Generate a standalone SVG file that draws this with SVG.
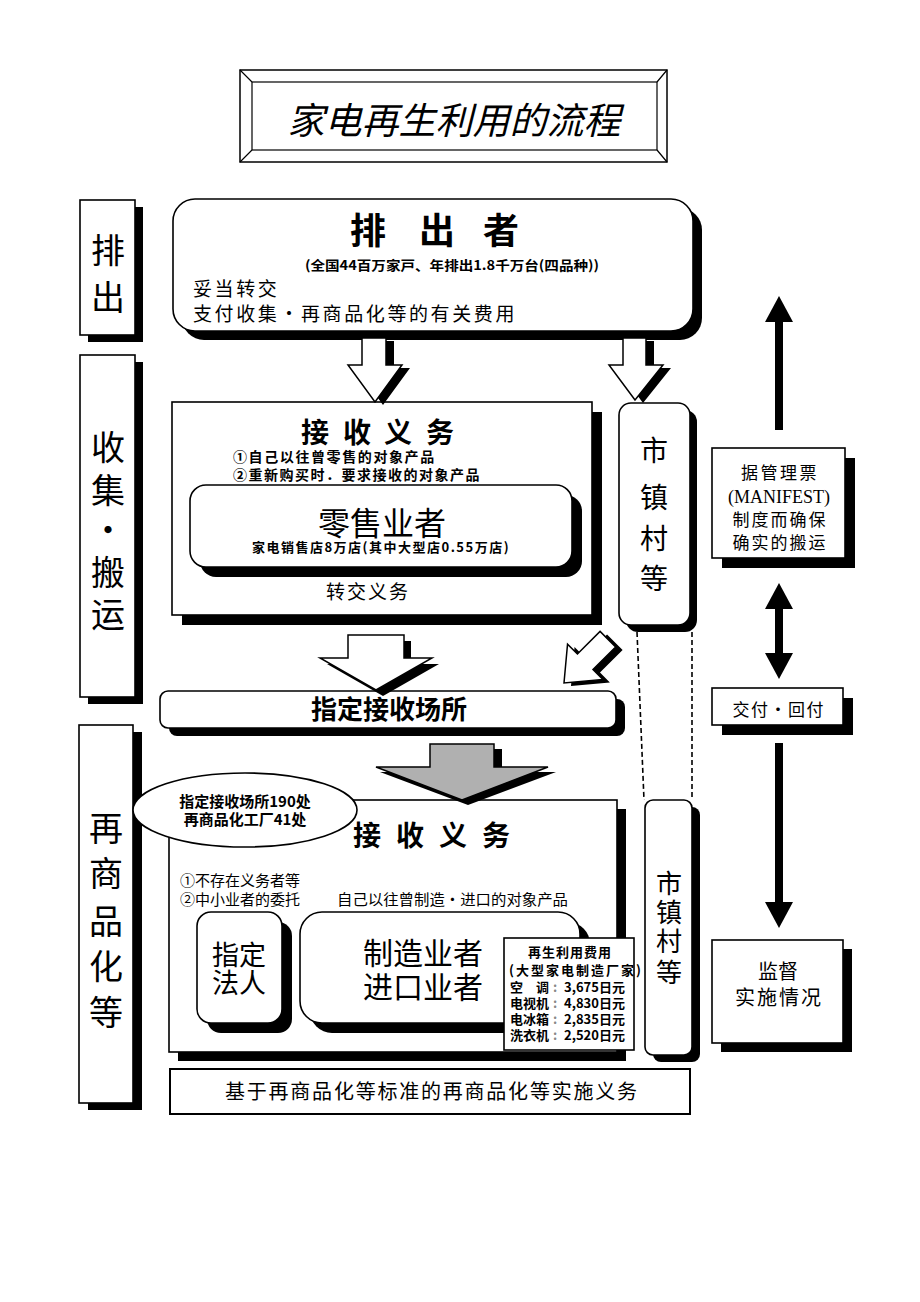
<svg xmlns="http://www.w3.org/2000/svg" width="920" height="1302" viewBox="0 0 920 1302">
<defs>
<style>
.bx{fill:#fff;stroke:#000;stroke-width:1.6}
.sh{fill:#000}
.t{font-family:"Noto Sans CJK SC","Noto Sans CJK JP",sans-serif;fill:#000}
.c{text-anchor:middle}
.b{font-weight:bold}
.ha{fill:#fff;stroke:#000;stroke-width:1.5;stroke-linejoin:miter}
.ga{fill:#b0b0b0;stroke:#000;stroke-width:1.5}
.dl{fill:none;stroke:#000;stroke-width:1.6;stroke-dasharray:5 3}
.sl{stroke:#000;stroke-width:8;fill:none}
</style>
<marker id="ah" viewBox="0 0 26 28" refX="1" refY="14" markerWidth="26" markerHeight="28" markerUnits="userSpaceOnUse" orient="auto-start-reverse">
<path d="M0,0 L26,14 L0,28 Z" fill="#000"/>
</marker>
</defs>
<rect width="920" height="1302" fill="#fff"/>

<g id="title">
<rect x="240" y="70" width="427" height="92" fill="#fff" stroke="#000" stroke-width="1.5"/>
<rect x="252" y="82" width="405" height="68" fill="#fff" stroke="#000" stroke-width="1.2"/>
<path d="M240,70 L252,82 M667,70 L657,82 M240,162 L252,150 M667,162 L657,150" stroke="#000" stroke-width="1.2"/>
<text class="t c" x="454" y="134" font-size="37" font-style="italic">家电再生利用的流程</text>
</g>

<g id="lbl-discharge">
<rect class="sh" x="88" y="207" width="55" height="135"/>
<rect class="bx" x="80" y="200" width="55" height="135"/>
<text class="t c" font-size="34"><tspan x="108" y="263">排</tspan><tspan x="108" y="310">出</tspan></text>
</g>

<g id="lbl-collect">
<rect class="sh" x="88" y="362" width="55" height="342"/>
<rect class="bx" x="80" y="355" width="55" height="342"/>
<text class="t c" font-size="34"><tspan x="108" y="460">收</tspan><tspan x="108" y="503">集</tspan><tspan x="108" y="543">・</tspan><tspan x="108" y="585">搬</tspan><tspan x="108" y="627">运</tspan></text>
</g>

<g id="lbl-recycle">
<rect class="sh" x="88" y="732" width="54" height="378"/>
<rect class="bx" x="79" y="725" width="54" height="378"/>
<text class="t c" font-size="34"><tspan x="106" y="841">再</tspan><tspan x="106" y="886">商</tspan><tspan x="106" y="934">品</tspan><tspan x="106" y="979">化</tspan><tspan x="106" y="1025">等</tspan></text>
</g>

<g id="discharger">
<rect class="sh" x="182" y="208" width="520" height="132" rx="22"/>
<rect class="bx" x="173" y="199" width="520" height="132" rx="22"/>
<text class="t c b" font-size="36"><tspan x="368" y="244">排</tspan><tspan x="437" y="244">出</tspan><tspan x="501" y="244">者</tspan></text>
<text class="t c b" x="452" y="270" font-size="13" textLength="294" lengthAdjust="spacingAndGlyphs">(全国44百万家戸、年排出1.8千万台(四品种))</text>
<text class="t" font-size="19" letter-spacing="2.6"><tspan x="193" y="296">妥当转交</tspan><tspan x="193" y="321">支付收集・再商品化等的有关费用</tspan></text>
</g>

<g id="collect-box">
<rect class="sh" x="182" y="412" width="420" height="213"/>
<rect class="bx" x="172" y="402" width="420" height="213"/>
<text class="t b" font-size="14"><tspan x="301" y="443" font-size="28">接</tspan><tspan x="343" y="443" font-size="28">收</tspan><tspan x="384" y="443" font-size="28">义</tspan><tspan x="426" y="443" font-size="28">务</tspan><tspan x="233" y="462" letter-spacing="1.6">①自己以往曾零售的对象产品</tspan><tspan x="233" y="480" letter-spacing="1.5">②重新购买时．要求接收的对象产品</tspan></text>
<text class="t c" x="368" y="599" font-size="19" letter-spacing="2">转交义务</text>
</g>

<g id="retailer">
<rect class="sh" x="200" y="495" width="382" height="82" rx="16"/>
<rect class="bx" x="190" y="485" width="382" height="82" rx="16"/>
<text class="t c"><tspan x="382" y="535" font-size="32">零售业者</tspan><tspan x="381" y="552" font-size="13" font-weight="bold" letter-spacing="1.5">家电销售店8万店(其中大型店0.55万店)</tspan></text>
</g>

<g id="municipal-1">
<rect class="sh" x="626" y="410" width="71" height="222" rx="12"/>
<rect class="bx" x="619" y="403" width="71" height="222" rx="12"/>
<text class="t c" font-size="28"><tspan x="654" y="461">市</tspan><tspan x="654" y="508">镇</tspan><tspan x="654" y="549">村</tspan><tspan x="654" y="589">等</tspan></text>
</g>

<g id="designated-site">
<rect class="sh" x="169" y="699" width="456" height="37" rx="8"/>
<rect class="bx" x="160" y="691" width="456" height="37" rx="8"/>
<text class="t c b" x="389" y="719" font-size="26">指定接收场所</text>
</g>

<g id="recycle-box">
<rect class="sh" x="178" y="809" width="448" height="252"/>
<rect class="bx" x="169" y="800" width="448" height="252"/>
<text class="t b" font-size="28"><tspan x="353" y="846">接</tspan><tspan x="396" y="846">收</tspan><tspan x="439" y="846">义</tspan><tspan x="482" y="846">务</tspan></text>
<text class="t" font-size="15"><tspan x="180" y="886">①不存在义务者等</tspan><tspan x="180" y="905">②中小业者的委托</tspan></text>
<text class="t" x="337" y="905" font-size="15" textLength="231" lengthAdjust="spacingAndGlyphs">自己以往曾制造・进口的对象产品</text>
</g>

<g id="designated-corp">
<rect class="sh" x="207" y="922" width="85" height="111" rx="14"/>
<rect class="bx" x="197" y="912" width="85" height="111" rx="14"/>
<text class="t c" font-size="27"><tspan x="239" y="965">指定</tspan><tspan x="239" y="993">法人</tspan></text>
</g>

<g id="manufacturer">
<rect class="sh" x="310" y="922" width="280" height="111" rx="22"/>
<rect class="bx" x="300" y="912" width="280" height="111" rx="22"/>
<text class="t c" font-size="30"><tspan x="423" y="964">制造业者</tspan><tspan x="423" y="998">进口业者</tspan></text>
</g>

<g id="fee-table">
<rect x="504" y="938" width="130" height="112" fill="#fff" stroke="#000" stroke-width="1.6"/>
<text class="t b" font-size="13"><tspan x="528" y="957" letter-spacing="1">再生利用费用</tspan><tspan x="509" y="975" letter-spacing="2">(大型家电制造厂家)</tspan><tspan x="510" y="992">空　调</tspan><tspan x="553" y="992" fill="#888">:</tspan><tspan x="564" y="992">3,675日元</tspan><tspan x="510" y="1008">电视机</tspan><tspan x="553" y="1008" fill="#888">:</tspan><tspan x="564" y="1008">4,830日元</tspan><tspan x="510" y="1024">电冰箱</tspan><tspan x="553" y="1024" fill="#888">:</tspan><tspan x="564" y="1024">2,835日元</tspan><tspan x="510" y="1040">洗衣机</tspan><tspan x="553" y="1040" fill="#888">:</tspan><tspan x="564" y="1040">2,520日元</tspan></text>
</g>

<g id="municipal-2">
<rect class="sh" x="653" y="807" width="47" height="255" rx="8"/>
<rect class="bx" x="645" y="800" width="47" height="255" rx="8"/>
<text class="t c" font-size="26"><tspan x="669" y="893">市</tspan><tspan x="669" y="922">镇</tspan><tspan x="669" y="951">村</tspan><tspan x="669" y="982">等</tspan></text>
</g>

<g id="facility-note">
<ellipse cx="245" cy="810" rx="112" ry="37" fill="#fff" stroke="#000" stroke-width="1.6"/>
<text class="t c b" font-size="15"><tspan x="245" y="807">指定接收场所190处</tspan><tspan x="245" y="825">再商品化工厂41处</tspan></text>
</g>

<g id="obligation">
<rect x="170" y="1069" width="520" height="45" fill="#fff" stroke="#000" stroke-width="2"/>
<text class="t c" x="431" y="1099" font-size="20" textLength="412" lengthAdjust="spacing">基于再商品化等标准的再商品化等实施义务</text>
</g>

<g id="manifest">
<rect class="sh" x="722" y="458" width="133" height="110"/>
<rect class="bx" x="712" y="448" width="133" height="110"/>
<text class="t c" font-size="17"><tspan x="780" y="479" letter-spacing="2.5">据管理票</tspan><tspan x="779" y="503" font-size="18" font-family="Liberation Serif, serif">(MANIFEST)</tspan><tspan x="780" y="526" letter-spacing="2">制度而确保</tspan><tspan x="780" y="549" letter-spacing="2">确实的搬运</tspan></text>
</g>

<g id="delivery">
<rect class="sh" x="722" y="698" width="131" height="37"/>
<rect class="bx" x="712" y="688" width="131" height="37"/>
<text class="t c" x="778" y="716" font-size="17" textLength="91" lengthAdjust="spacing">交付・回付</text>
</g>

<g id="supervision">
<rect class="sh" x="721" y="949" width="131" height="103"/>
<rect class="bx" x="712" y="940" width="131" height="103"/>
<text class="t c" font-size="20"><tspan x="778" y="979">监督</tspan><tspan x="779" y="1005" letter-spacing="2">实施情况</tspan></text>
</g>

<g id="connectors">
<polygon class="sh" points="370,341 394,341 394,368 410,368 383,405 356,368 370,368"/>
<polygon class="ha" points="362,338 386,338 386,365 402,365 375,402 348,365 362,365"/>
<polygon class="sh" points="631,341 654,341 654,368 671,368 643,403 617,368 631,368"/>
<polygon class="ha" points="623,338 646,338 646,365 663,365 635,400 609,365 623,365"/>
<polygon class="sh" points="355,641 411,641 411,664 439,664 383,696 327,664 355,664"/>
<polygon class="ha" points="348,635 404,635 404,658 432,658 376,690 320,658 348,658"/>
<g transform="translate(571,686) rotate(45)"><polygon class="sh" points="-11,-62 11,-62 11,-30 25,-30 0,0 -25,-30 -11,-30"/></g>
<g transform="translate(564,683) rotate(45)"><polygon class="ha" points="-11,-62 11,-62 11,-30 25,-30 0,0 -25,-30 -11,-30"/></g>
<path class="dl" d="M637,632 L644,800 M692,632 L692,800"/>
<polygon class="sh" points="438,749 502,749 502,772 556,772 468,805 380,772 438,772"/>
<polygon class="ga" points="430,744 494,744 494,767 548,767 462,800 376,767 430,767"/>
<line class="sl" x1="779" y1="430" x2="779" y2="321" marker-end="url(#ah)"/>
<line class="sl" x1="779" y1="608" x2="779" y2="654" marker-start="url(#ah)" marker-end="url(#ah)"/>
<line class="sl" x1="779" y1="743" x2="779" y2="903" marker-end="url(#ah)"/>
</g>
</svg>
